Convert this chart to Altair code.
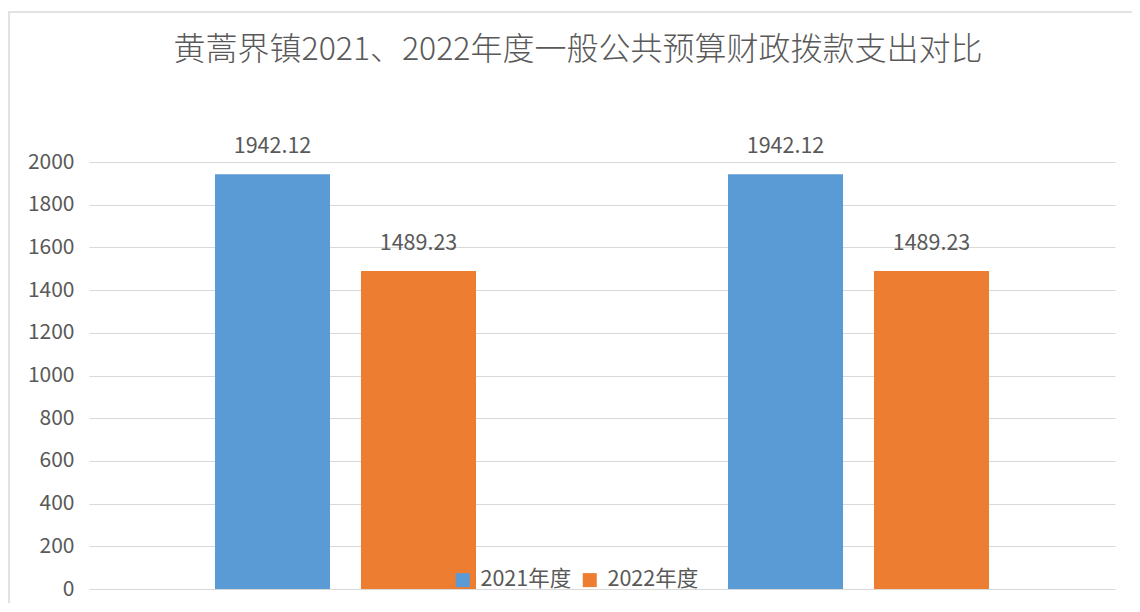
import altair as alt
import pandas as pd

categories = ["类别一", "类别一", "类别二", "类别二"]
years = ["2021年度", "2022年度", "2021年度", "2022年度"]
values = [1942.12, 1489.23, 1942.12, 1489.23]
labels = ["1942.12", "1489.23", "1942.12", "1489.23"]
title_text = "黄蒿界镇2021、2022年度一般公共预算财政拨款支出对比"

df = pd.DataFrame({"cat": categories, "year": years, "value": values, "label": labels})

FONT = "Noto Sans CJK SC"
GRAY = "#595959"

x_enc = alt.X("cat:N", axis=None, scale=alt.Scale(paddingInner=0, paddingOuter=0))
xo_enc = alt.XOffset("year:N", scale=alt.Scale(paddingInner=0.212, paddingOuter=0.863))
y_scale = alt.Scale(domain=[0, 2000], nice=False)

frame = alt.Chart(pd.DataFrame({"f": [1]})).mark_rect(
    filled=False, fillOpacity=0, stroke="#d9d9d9", strokeWidth=1.5
).encode(
    x=alt.value(-80), x2=alt.value(1200), y=alt.value(-150), y2=alt.value(500)
)

title = alt.Chart(pd.DataFrame({"t": [title_text]})).mark_text(
    font=FONT, fontSize=32, fontWeight=300, color=GRAY, align="center", baseline="middle"
).encode(
    x=alt.value(489), y=alt.value(-112), text="t:N"
)

bars = alt.Chart(df).mark_bar().encode(
    x=x_enc,
    xOffset=xo_enc,
    y=alt.Y("value:Q", scale=y_scale,
            axis=alt.Axis(values=list(range(0, 2001, 200)), format="d", domain=False, ticks=False,
                          labelFont=FONT, labelFontSize=21, labelColor=GRAY,
                          labelPadding=15, gridColor="#d9d9d9", gridWidth=1.2, title=None)),
    color=alt.Color("year:N",
                    scale=alt.Scale(domain=["2021年度", "2022年度"], range=["#5B9BD5", "#ED7D31"]),
                    legend=alt.Legend(orient="none", direction="horizontal", legendX=363, legendY=407,
                                      title=None, symbolType="square", symbolSize=196,
                                      symbolStrokeWidth=0, labelFont=FONT, labelFontSize=21.5,
                                      labelColor=GRAY, columnPadding=7, labelOffset=7, padding=0)),
)

text = alt.Chart(df).mark_text(
    baseline="bottom", dy=-16, font=FONT, fontSize=21.5, color=GRAY
).encode(
    x=x_enc,
    xOffset=xo_enc,
    y=alt.Y("value:Q", scale=y_scale),
    text="label:N",
)

chart = alt.layer(frame, title, bars, text).properties(
    width=1026,
    height=427,
    autosize=alt.AutoSizeParams(type="none"),
    padding={"left": 81, "top": 154, "right": 17, "bottom": 14},
).configure_view(stroke=None)

chart.save("out.html", embed_options={"renderer": "svg", "actions": False})
